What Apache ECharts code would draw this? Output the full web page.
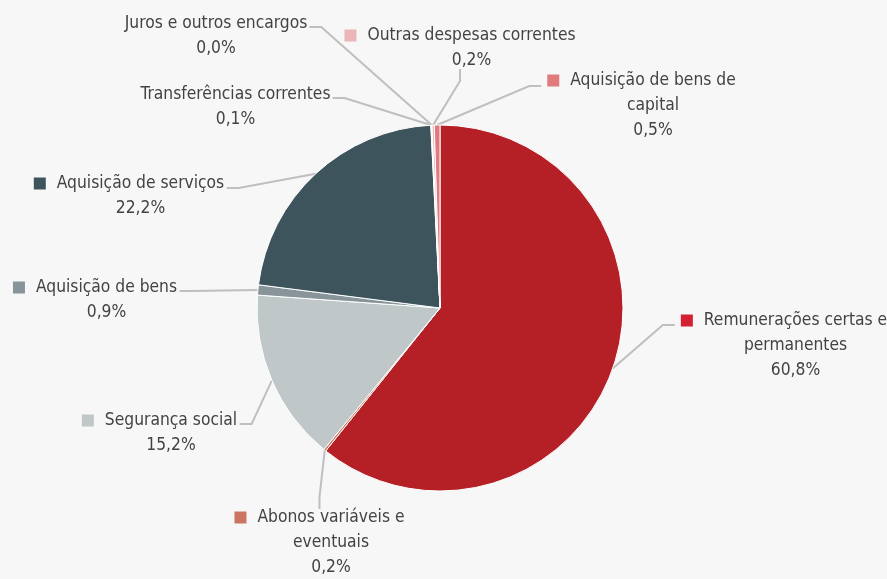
<!DOCTYPE html>
<html>
<head>
<meta charset="utf-8">
<script src="https://cdn.jsdelivr.net/npm/echarts@6/dist/echarts.min.js"></script>
<style>
html,body{margin:0;padding:0;background:#f7f7f7;}
#chart{width:887px;height:579px;}
</style>
</head>
<body>
<div id="chart"></div>
<script>
// Data (clockwise from 12 o'clock)
var categories = [
  'Remunerações certas e\npermanentes',
  'Abonos variáveis e\neventuais',
  'Segurança social',
  'Aquisição de bens',
  'Aquisição de serviços',
  'Transferências correntes',
  'Juros e outros encargos',
  'Outras despesas correntes',
  'Aquisição de bens de\ncapital'
];
var values = [60.8, 0.2, 15.2, 0.9, 22.2, 0.1, 0.0, 0.2, 0.5];
var showMarker = [true, true, true, true, true, false, false, true, true];

// Styles
var sliceColors = ['#b51f26', '#cc7462', '#c0c7c9', '#87959a', '#3d545c', '#e4e4e4', '#d9d9d9', '#ebb5b9', '#e07a7d'];
var markerColors = ['#d42030', '#cc7462', '#c0c7c9', '#87959a', '#3d545c', '#e4e4e4', '#d9d9d9', '#ebb5b9', '#e07a7d'];
// label block: center x, top y of text
var labelPos = [
  [784, 308], [319.5, 505], [159.5, 408], [95, 275], [129, 171],
  [235.5, 82], [216, 11], [460, 23], [641.5, 68]
];
// invisible spacers so the leader line meets the first text line with a small gap
var labelTopPad = [37, 0, 14, 14, 12, 14, 14, 0, 35];
var labelLeftGap = [12, 0, 0, 0, 0, 0, 0, 0, 12];
var labelRightGap = [0, 0, 5, 5, 5, 4, 4, 0, 0];

var FONT = "'DejaVu Sans Condensed', 'Liberation Sans Narrow', sans-serif";
var rich = {
  t: {fontFamily: FONT, fontSize: 17.3, color: '#434343', lineHeight: 25, align: 'center'},
  g: {width: 11, height: 12, align: 'center'},
  sp: {width: 23, height: 12, align: 'center'}
};
markerColors.forEach(function (c, i) {
  rich['m' + i] = {width: 12, height: 12, backgroundColor: c, align: 'center'};
  rich['pad' + i] = {width: 1, height: labelTopPad[i], lineHeight: labelTopPad[i], align: 'center'};
  rich['gl' + i] = {width: labelLeftGap[i], height: 1, align: 'center'};
  rich['gr' + i] = {width: labelRightGap[i], height: 1, align: 'center'};
});

function fmtPct(v) { return v.toFixed(1).replace('.', ',') + '%'; }

var data = categories.map(function (name, i) {
  return {name: name, value: values[i], itemStyle: {color: sliceColors[i]}};
});

var chart = echarts.init(document.getElementById('chart'), null, {renderer: 'canvas'});
chart.setOption({
  backgroundColor: '#f7f7f7',
  animation: false,
  series: [{
    type: 'pie',
    center: [440, 308],
    radius: [0, 183],
    startAngle: 90,
    clockwise: true,
    avoidLabelOverlap: false,
    minShowLabelAngle: 0,
    data: data,
    itemStyle: {borderColor: '#ffffff', borderWidth: 1},
    label: {
      show: true,
      position: 'outside',
      rich: rich,
      formatter: function (p) {
        var i = p.dataIndex;
        var lines = categories[i].split('\n').concat([fmtPct(values[i])]);
        var out = lines.map(function (ln, k) {
          var s;
          if (showMarker[i]) {
            s = k === 0 ? '{m' + i + '|}{g|}{t|' + ln + '}' : '{sp|}{t|' + ln + '}';
          } else {
            s = '{t|' + ln + '}';
          }
          if (labelLeftGap[i] > 0) s = '{gl' + i + '|}' + s;
          if (labelRightGap[i] > 0) s = s + '{gr' + i + '|}';
          return s;
        });
        if (labelTopPad[i] > 0) out.unshift('{pad' + i + '|}');
        return out.join('\n');
      }
    },
    labelLine: {
      show: true,
      length: 10,
      length2: 12,
      smooth: false,
      lineStyle: {color: '#bfbfbf', width: 2}
    },
    labelLayout: function (p) {
      var i = p.dataIndex;
      var pos = labelPos[i];
      return {
        x: pos[0] + (labelRightGap[i] - labelLeftGap[i]) / 2,
        y: pos[1] - labelTopPad[i],
        align: 'center',
        verticalAlign: 'top'
      };
    }
  }]
});
</script>
</body>
</html>
